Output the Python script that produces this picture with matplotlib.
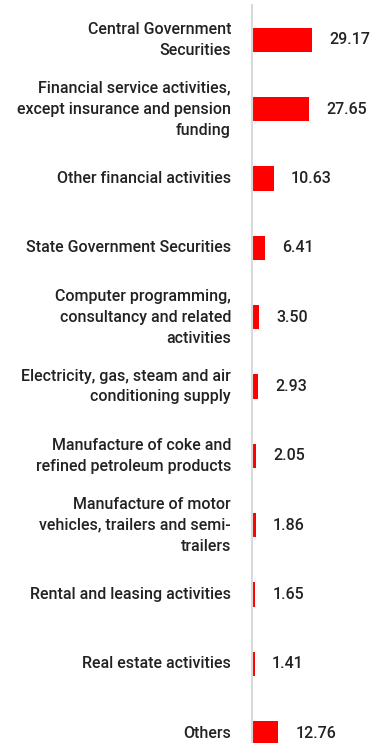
import matplotlib
matplotlib.use('Agg')
import matplotlib.pyplot as plt

labels = [
    'Central Government\nSecurities',
    'Financial service activities,\nexcept insurance and pension\nfunding',
    'Other financial activities',
    'State Government Securities',
    'Computer programming,\nconsultancy and related\nactivities',
    'Electricity, gas, steam and air\nconditioning supply',
    'Manufacture of coke and\nrefined petroleum products',
    'Manufacture of motor\nvehicles, trailers and semi-\ntrailers',
    'Rental and leasing activities',
    'Real estate activities',
    'Others',
]
values = [29.17, 27.65, 10.63, 6.41, 3.50, 2.93, 2.05, 1.86, 1.65, 1.41, 12.76]

W, H = 386, 743
fig = plt.figure(figsize=(W / 100, H / 100), dpi=100)

# axes placed in pixel terms; bottom row runs off the figure like the original
left_px, top_px, row_px = 252, 5.35, 69.3
ax_w = W - left_px
ax_h = row_px * len(values)
ax = fig.add_axes([left_px / W, (H - top_px - ax_h) / H, ax_w / W, ax_h / H])

ypos = list(range(len(values)))
ax.barh(ypos, values, height=0.35, color='#ff0000', edgecolor='none')
ax.set_ylim(len(values) - 0.5, -0.5)
ax.set_xlim(0, ax_w / 2.07)

for y, v, lab in zip(ypos, values, labels):
    ax.text(v + 17 / 2.07, y, f'{v:.2f}', va='center', ha='left',
            fontsize=11.5, color='#222222', family='Roboto', weight='medium')
    ax.text(-21 / 2.07, y, lab, va='center', ha='right', multialignment='right',
            fontsize=11.5, color='#222222', family='Roboto', weight='medium',
            linespacing=1.5, clip_on=False)

ax.set_xticks([])
ax.set_yticks([])
for s in ['top', 'right', 'bottom']:
    ax.spines[s].set_visible(False)
ax.spines['left'].set_color('#d9d9d9')
ax.spines['left'].set_linewidth(1.5)

fig.savefig('out.png', dpi=100)
